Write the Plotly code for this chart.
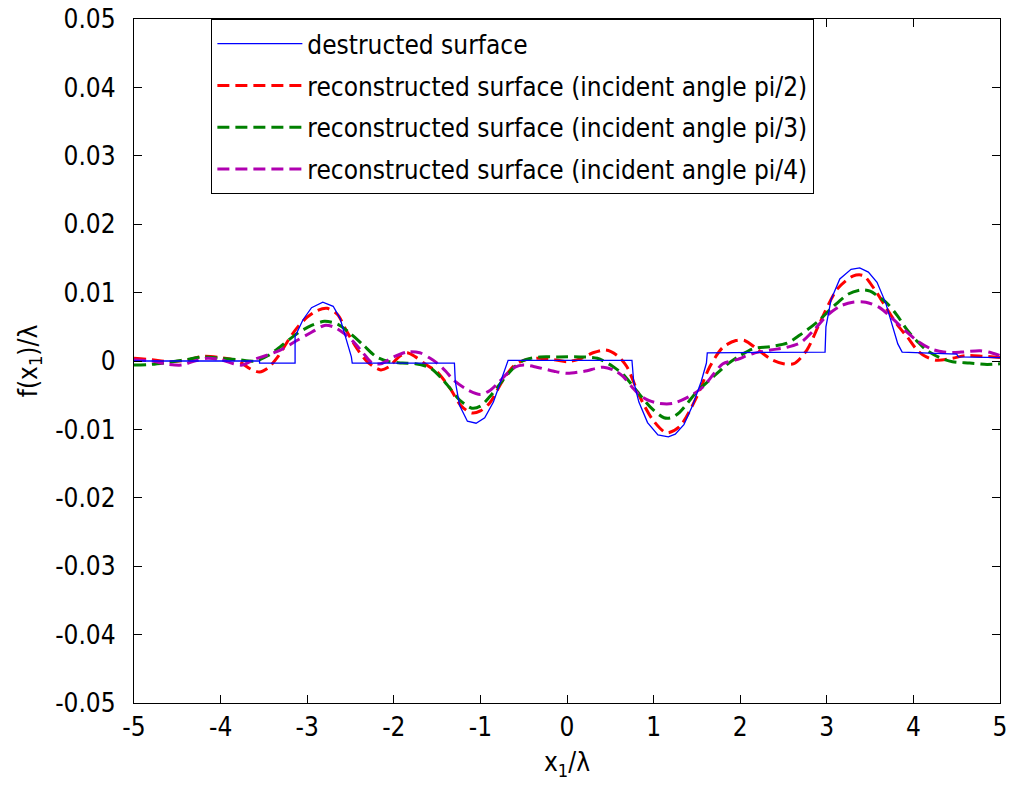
import plotly.graph_objects as go

# ---------------- data ----------------
blue_x = [-5.0, -3.55, -3.55, -3.14, -3.14, -3.05, -2.95, -2.82, -2.70, -2.62, -2.55, -2.49, -2.48,
          -1.30, -1.29, -1.24, -1.15, -1.05, -0.95, -0.85, -0.78, -0.72, -0.68,
          0.75, 0.77, 0.83, 0.93, 1.05, 1.17, 1.25, 1.35, 1.45, 1.55, 1.61, 1.62,
          2.98, 2.99, 3.05, 3.15, 3.28, 3.38, 3.48, 3.58, 3.68, 3.76, 3.82, 3.87,
          4.5, 4.52, 5.0]
blue_y = [0.0, 0.0, -0.0003, -0.0003, 0.0036, 0.0060, 0.0078, 0.0086, 0.0080, 0.0062, 0.0032, 0.0006, -0.0003,
          -0.0003, -0.0030, -0.0065, -0.0088, -0.0091, -0.0083, -0.0060, -0.0035, -0.0012, 0.0001,
          0.0001, -0.0030, -0.0060, -0.0090, -0.0108, -0.0111, -0.0107, -0.0093, -0.0065, -0.0030, -0.0003, 0.0012,
          0.0013, 0.0050, 0.0090, 0.0120, 0.0134, 0.0136, 0.0130, 0.0115, 0.0085, 0.0050, 0.0025, 0.0013,
          0.0010, 0.0006, 0.0005]

red_x = [-5.0, -4.8, -4.6, -4.4, -4.2, -4.0, -3.8, -3.65, -3.55, -3.45, -3.34, -3.22, -3.12, -3.0, -2.88,
         -2.77, -2.65, -2.55, -2.43, -2.3, -2.15, -2.05, -1.95, -1.85, -1.75, -1.62, -1.5, -1.35, -1.22, -1.1,
         -1.0, -0.89, -0.74, -0.62, -0.5, -0.35, -0.15, 0.0, 0.15, 0.3, 0.45, 0.58, 0.69, 0.84, 0.99,
         1.15, 1.3, 1.5, 1.65, 1.8, 1.95, 2.05, 2.2, 2.35, 2.5, 2.62, 2.77, 2.92, 3.12, 3.3, 3.42, 3.55,
         3.69, 3.82, 3.93, 4.05, 4.15, 4.27, 4.45, 4.6, 4.8, 5.0]
red_y = [0.0004, 0.0002, -0.0001, 0.0001, 0.0007, 0.0005, 0.0, -0.0012, -0.0016, -0.0010, 0.0006, 0.0030, 0.0048,
         0.0064, 0.0074, 0.0077, 0.0068, 0.0045, 0.0019, -0.0002, -0.0013, -0.0008, 0.0005, 0.0012, 0.0006,
         -0.0006, -0.0016, -0.0040, -0.0066, -0.0076, -0.0073, -0.0061, -0.0028, -0.0008, 0.0001, 0.0004,
         0.0002, -0.0001, 0.0003, 0.0012, 0.0016, 0.0008, -0.0008, -0.0052, -0.0086, -0.0105, -0.0096,
         -0.0052, -0.0008, 0.0020, 0.0030, 0.0030, 0.0017, 0.0003, -0.0004, -0.0004, 0.0016, 0.0056, 0.0105,
         0.0124, 0.0125, 0.0105, 0.0077, 0.0052, 0.0035, 0.0015, 0.0006, 0.0001, 0.0004, 0.0008, 0.0007, 0.0005]

green_x = [-5.0, -4.8, -4.6, -4.4, -4.2, -4.0, -3.8, -3.6, -3.45, -3.3, -3.12, -2.95, -2.8, -2.65, -2.5,
           -2.35, -2.2, -2.05, -1.9, -1.75, -1.58, -1.45, -1.35, -1.24, -1.1, -1.0, -0.89, -0.74, -0.6, -0.5,
           -0.31, -0.1, 0.15, 0.35, 0.53, 0.65, 0.77, 0.96, 1.12, 1.2, 1.3, 1.5, 1.69, 1.85, 2.0, 2.15, 2.35,
           2.54, 2.69, 2.89, 3.07, 3.25, 3.4, 3.5, 3.69, 3.81, 3.93, 4.05, 4.15, 4.3, 4.45, 4.65, 4.85, 5.0]
green_y = [-0.0006, -0.0005, -0.0002, 0.0002, 0.0006, 0.0004, 0.0002, 0.0, 0.0008, 0.0022, 0.0040, 0.0052,
           0.0058, 0.0054, 0.0040, 0.0023, 0.0006, -0.0001, -0.0003, -0.0004, -0.0010, -0.0025, -0.0040,
           -0.0057, -0.0069, -0.0066, -0.0052, -0.0028, -0.0008, 0.0001, 0.0006, 0.0006, 0.0006, 0.0004,
           -0.0008, -0.0020, -0.0038, -0.0067, -0.0083, -0.0083, -0.0075, -0.0045, -0.0023, -0.0005, 0.0008,
           0.0018, 0.0021, 0.0026, 0.0038, 0.0057, 0.0079, 0.0098, 0.0104, 0.0102, 0.0085, 0.0067, 0.0045,
           0.0028, 0.0016, 0.0005, -0.0001, -0.0003, -0.0005, -0.0004]

mag_x = [-5.0, -4.8, -4.6, -4.45, -4.3, -4.15, -4.0, -3.85, -3.75, -3.6, -3.5, -3.31, -3.12, -2.95, -2.8,
         -2.7, -2.58, -2.45, -2.35, -2.25, -2.15, -2.0, -1.85, -1.7, -1.58, -1.5, -1.4, -1.31, -1.15, -1.0,
         -0.89, -0.78, -0.69, -0.6, -0.5, -0.35, -0.15, 0.0, 0.2, 0.42, 0.55, 0.65, 0.75, 0.84, 0.95, 1.07,
         1.22, 1.38, 1.57, 1.7, 1.8, 1.96, 2.15, 2.35, 2.54, 2.7, 2.85, 3.0, 3.15, 3.3, 3.45, 3.61, 3.75,
         3.9, 4.04, 4.2, 4.35, 4.55, 4.77, 4.9, 5.0]
mag_y = [0.0002, 0.0, -0.0005, -0.0006, 0.0, 0.0004, 0.0002, -0.0004, -0.0006, 0.0003, 0.0007, 0.0016, 0.0030,
         0.0042, 0.0052, 0.0050, 0.0041, 0.0026, 0.0011, -0.0003, -0.0004, 0.0006, 0.0013, 0.0012, 0.0004,
         -0.0003, -0.0015, -0.0028, -0.0042, -0.0049, -0.0043, -0.0030, -0.0018, -0.0009, -0.0006, -0.0009,
         -0.0015, -0.0018, -0.0015, -0.0009, -0.0014, -0.0023, -0.0038, -0.0050, -0.0058, -0.0062, -0.0062,
         -0.0054, -0.0038, -0.0018, -0.0004, 0.0002, 0.0011, 0.0016, 0.0020, 0.0027, 0.0045, 0.0066, 0.0080,
         0.0086, 0.0086, 0.0078, 0.0063, 0.0045, 0.0030, 0.0018, 0.0013, 0.0013, 0.0015, 0.0012, 0.0008]

x_ticks = [-5, -4, -3, -2, -1, 0, 1, 2, 3, 4, 5]
x_ticktext = ["-5", "-4", "-3", "-2", "-1", "0", "1", "2", "3", "4", "5"]
y_ticks = [0.05, 0.04, 0.03, 0.02, 0.01, 0.0, -0.01, -0.02, -0.03, -0.04, -0.05]
y_ticktext = ["0.05", "0.04", "0.03", "0.02", "0.01", "0", "-0.01", "-0.02", "-0.03", "-0.04", "-0.05"]

names = ["destructed surface",
         "reconstructed surface (incident angle pi/2)",
         "reconstructed surface (incident angle pi/3)",
         "reconstructed surface (incident angle pi/4)"]

FONT = "DejaVu Sans Condensed, Liberation Sans, Arial, sans-serif"
FS = 26

fig = go.Figure()
dash = "12px,6px"
fig.add_trace(go.Scatter(x=red_x, y=red_y, mode="lines", name=names[1], legendrank=2, legendgroup="b",
                         line=dict(color="#ff0000", width=3, dash=dash, shape="spline", smoothing=0.8)))
fig.add_trace(go.Scatter(x=green_x, y=green_y, mode="lines", name=names[2], legendrank=3, legendgroup="c",
                         line=dict(color="#008000", width=3, dash=dash, shape="spline", smoothing=0.8)))
fig.add_trace(go.Scatter(x=mag_x, y=mag_y, mode="lines", name=names[3], legendrank=4, legendgroup="d",
                         line=dict(color="#b000b0", width=3, dash=dash, shape="spline", smoothing=0.8)))
fig.add_trace(go.Scatter(x=blue_x, y=blue_y, mode="lines", name=names[0], legendrank=1, legendgroup="a",
                         line=dict(color="#0000ff", width=1.3)))

axis_common = dict(showline=True, linecolor="black", linewidth=1.3, mirror="ticks", ticks="inside",
                   ticklen=8, tickcolor="black", tickwidth=1.3, showgrid=False, zeroline=False,
                   automargin=False, tickfont=dict(family=FONT, size=FS, color="black"))

fig.update_layout(
    width=1010, height=787,
    margin=dict(l=134, r=10, t=19, b=84),
    paper_bgcolor="white", plot_bgcolor="white",
    font=dict(family=FONT, size=FS, color="black"),
    xaxis=dict(range=[-5, 5], tickvals=x_ticks, ticktext=x_ticktext, ticklabelstandoff=1,
               title=dict(text="x<sub>1</sub>/λ", font=dict(family=FONT, size=FS), standoff=11),
               **axis_common),
    yaxis=dict(range=[-0.05, 0.05], tickvals=y_ticks, ticktext=y_ticktext, ticklabelstandoff=12,
               title=dict(text="f(x<sub>1</sub>)/λ", font=dict(family=FONT, size=FS), standoff=10),
               **axis_common),
    legend=dict(x=0.089, y=1.0, xanchor="left", yanchor="top", bgcolor="white",
                bordercolor="black", borderwidth=1.3, font=dict(family=FONT, size=FS),
                tracegroupgap=5, itemwidth=85, traceorder="grouped"),
    showlegend=True,
)

fig.write_html("out.html")
